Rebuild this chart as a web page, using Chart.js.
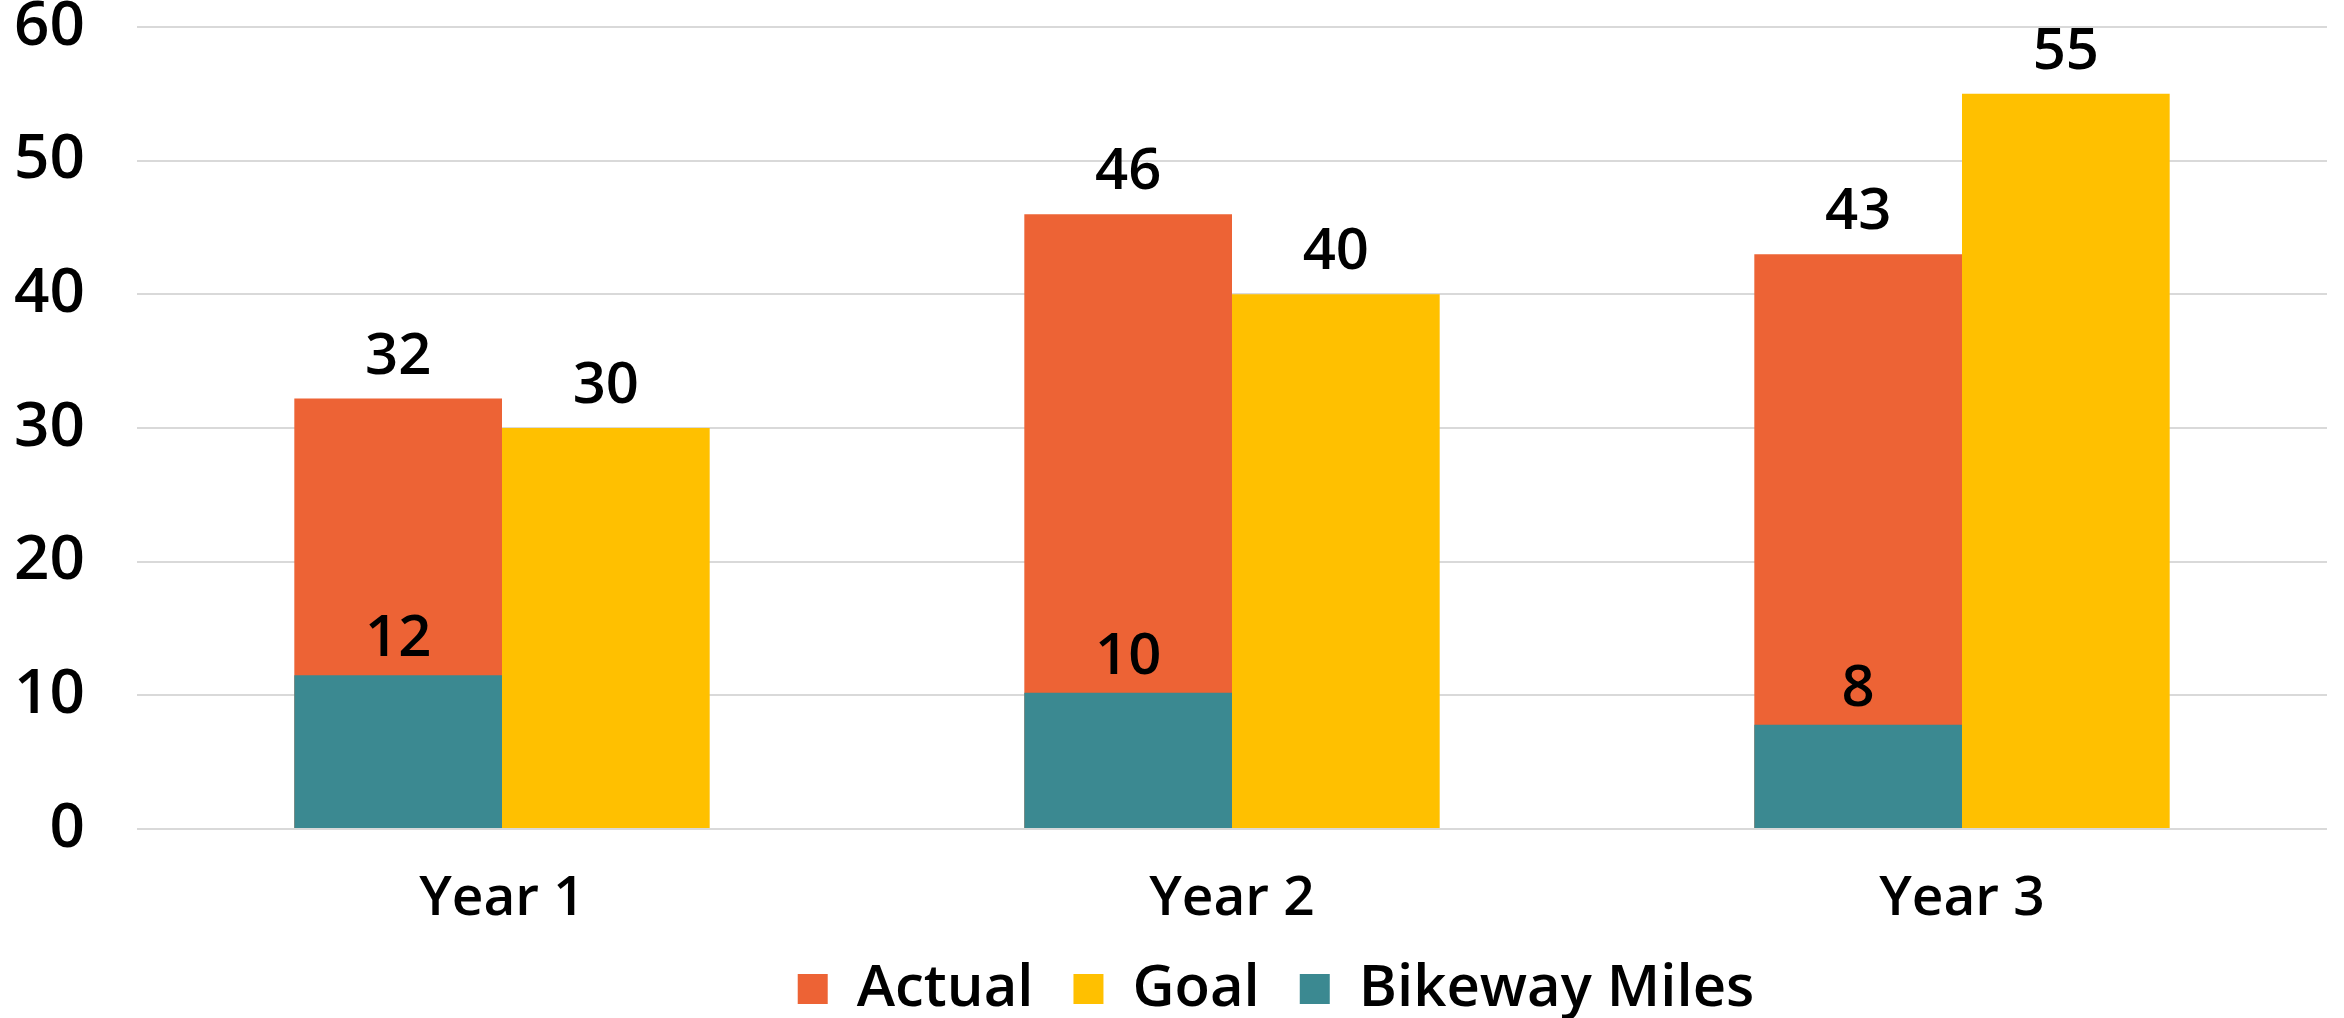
<!DOCTYPE html>
<html>
<head>
<meta charset="utf-8">
<script src="https://cdn.jsdelivr.net/npm/chart.js@4.4.1/dist/chart.umd.min.js"></script>
<style>
  html, body { margin: 0; padding: 0; background: #fff; overflow: hidden; }
</style>
</head>
<body>
<canvas id="chart" width="2344" height="1018"></canvas>
<script>
// data
const years = ["Year 1", "Year 2", "Year 3"];
const actual = [32.2, 46, 43];
const goal = [30, 40, 55];
const bikewayMiles = [11.5, 10.2, 7.8];
const yTicks = [0, 10, 20, 30, 40, 50, 60];

const FONT = '"Open Sans", "Liberation Sans", sans-serif';

// gap between top of bar and its value label, per dataset
const labelGap = { Actual: 25, Goal: 25, "Bikeway Miles": 19 };

const valueLabels = {
	id: "valueLabels",
	afterDatasetsDraw(chart) {
		const ctx = chart.ctx;
		ctx.save();
		ctx.font = `600 58px ${FONT}`;
		ctx.fillStyle = "#000";
		ctx.textAlign = "center";
		ctx.textBaseline = "alphabetic";
		chart.data.datasets.forEach((ds, i) => {
			const meta = chart.getDatasetMeta(i);
			meta.data.forEach((bar, j) => {
				ctx.fillText(Math.round(ds.data[j]), bar.x, bar.y - labelGap[ds.label]);
			});
		});
		ctx.restore();
	},
};

// nudge the legend a little to the right, like the original
const legendShift = {
	id: "legendShift",
	afterLayout(chart) {
		chart.legend.left += 44;
		chart.legend.right += 44;
	},
};

new Chart(document.getElementById("chart"), {
	type: "bar",
	data: {
		labels: years,
		datasets: [
			{ label: "Actual", data: actual, backgroundColor: "#ED6335", stack: "a", order: 0 },
			{ label: "Goal", data: goal, backgroundColor: "#FFC000", stack: "b", order: 0 },
			// drawn on top of the Actual bar, sharing its slot
			{ label: "Bikeway Miles", data: bikewayMiles, backgroundColor: "#3B8991", stack: "a", order: -1 },
		],
	},
	options: {
		responsive: false,
		animation: false,
		devicePixelRatio: 1,
		categoryPercentage: 0.569,
		barPercentage: 1,
		layout: { padding: { top: 27, right: 17, bottom: -10, left: 0 } },
		scales: {
			x: {
				grid: { display: false, drawTicks: false },
				border: { display: false },
				ticks: { color: "#000", padding: 37, font: { family: FONT, size: 55, weight: 600 } },
				afterFit(scale) {
					scale.height = 91;
				},
			},
			y: {
				stacked: false,
				min: 0,
				max: 60,
				afterBuildTicks(scale) {
					scale.ticks = yTicks.map((v) => ({ value: v }));
				},
				grid: { color: "#d9d9d9", lineWidth: 2, drawTicks: true, tickLength: 52, tickColor: "rgba(0,0,0,0)" },
				border: { display: false },
				ticks: { color: "#000", padding: 0, font: { family: FONT, size: 62, weight: 600, lineHeight: 0.8 } },
				afterFit(scale) {
					scale.width = 137;
				},
			},
		},
		plugins: {
			tooltip: { enabled: false },
			legend: {
				position: "bottom",
				fullSize: false,
				labels: {
					color: "#000",
					boxWidth: 30,
					boxHeight: 30,
					padding: 40,
					font: { family: FONT, size: 58, weight: 600 },
					sort: (a, b) => a.datasetIndex - b.datasetIndex,
				},
			},
		},
	},
	plugins: [valueLabels, legendShift],
});
</script>
</body>
</html>
